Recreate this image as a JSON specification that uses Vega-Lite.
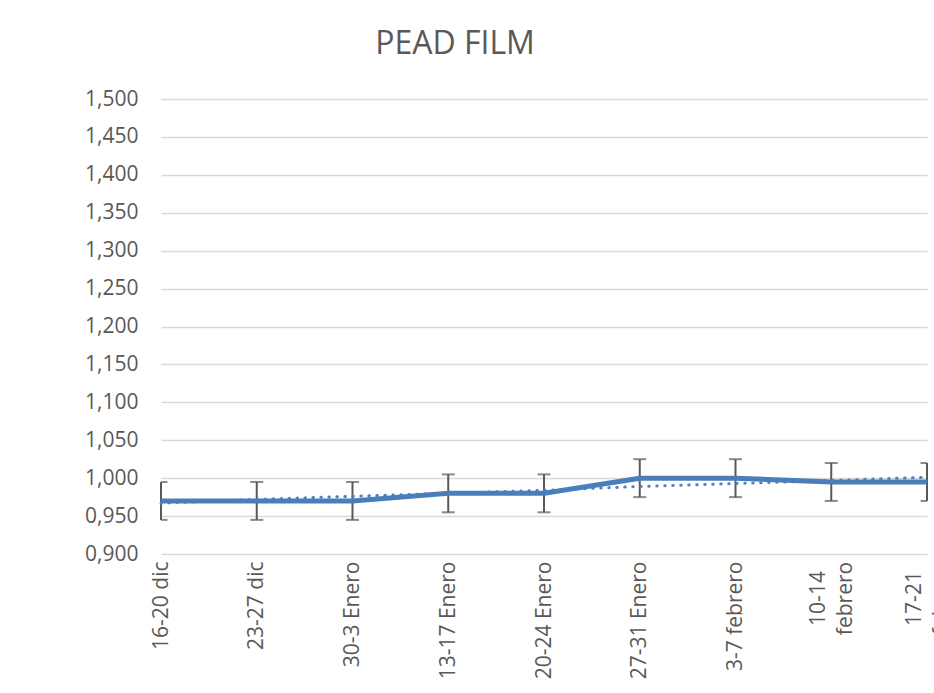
{
  "$schema": "https://vega.github.io/schema/vega-lite/v6.json",
  "autosize": {"type": "none"},
  "width": 766,
  "height": 455,
  "padding": {"left": 161, "top": 99, "right": 7, "bottom": 139},
  "background": "white",
  "title": {
    "text": "PEAD FILM",
    "font": "Open Sans",
    "fontSize": 32,
    "fontWeight": "normal",
    "color": "#595959",
    "anchor": "middle",
    "frame": "group",
    "dx": -89,
    "baseline": "alphabetic",
    "offset": 2
  },
  "data": {
    "values": [
      {"semana": "16-20 dic", "valor": 0.970, "lo": 0.945, "hi": 0.995, "tendencia": 0.967},
      {"semana": "23-27 dic", "valor": 0.970, "lo": 0.945, "hi": 0.995, "tendencia": 0.972},
      {"semana": "30-3 Enero", "valor": 0.970, "lo": 0.945, "hi": 0.995, "tendencia": 0.976},
      {"semana": "13-17 Enero", "valor": 0.980, "lo": 0.955, "hi": 1.005, "tendencia": 0.980},
      {"semana": "20-24 Enero", "valor": 0.980, "lo": 0.955, "hi": 1.005, "tendencia": 0.984},
      {"semana": "27-31 Enero", "valor": 1.000, "lo": 0.975, "hi": 1.025, "tendencia": 0.989},
      {"semana": "3-7 febrero", "valor": 1.000, "lo": 0.975, "hi": 1.025, "tendencia": 0.993},
      {"semana": "10-14 febrero", "valor": 0.995, "lo": 0.970, "hi": 1.020, "tendencia": 0.997},
      {"semana": "17-21 febrero", "valor": 0.995, "lo": 0.970, "hi": 1.020, "tendencia": 1.001}
    ]
  },
  "encoding": {
    "x": {
      "field": "semana",
      "type": "ordinal",
      "sort": null,
      "scale": {"type": "point", "padding": 0},
      "axis": {
        "title": null,
        "domain": false,
        "ticks": false,
        "grid": false,
        "labelAngle": -90,
        "labelAlign": {"condition": {"test": "length(datum.value) > 12", "value": "center"}, "value": "right"},
        "labelBaseline": "middle",
        "labelPadding": {"condition": {"test": "length(datum.value) > 12", "value": 44}, "value": 7},
        "labelOffset": {"condition": {"test": "length(datum.value) > 12", "value": -13}, "value": 0},
        "labelFont": "Open Sans",
        "labelFontSize": 21,
        "labelColor": "#595959",
        "labelLineHeight": 27,
        "labelOverlap": false,
        "labelBound": false,
        "labelExpr": "length(datum.value) > 12 ? split(datum.value, ' ') : datum.value"
      }
    }
  },
  "layer": [
    {
      "mark": {"type": "rule", "color": "#595959", "strokeWidth": 2},
      "encoding": {
        "y": {"field": "lo", "type": "quantitative", "scale": {"domain": [0.9, 1.5], "nice": false, "zero": false},
          "axis": {"title": null, "domain": false, "ticks": false, "values": [0.9, 0.95, 1.0, 1.05, 1.1, 1.15, 1.2, 1.25, 1.3, 1.35, 1.4, 1.45, 1.5], "labelExpr": "replace(format(datum.value, '.3f'), '.', ',')", "labelFont": "Open Sans", "labelFontSize": 21, "labelColor": "#595959", "labelPadding": 23, "labelOverlap": false, "gridColor": "#d9d9d9", "gridWidth": 1.3}},
        "y2": {"field": "hi"}
      }
    },
    {
      "mark": {"type": "tick", "orient": "horizontal", "color": "#595959", "thickness": 2, "size": 13, "clip": true},
      "encoding": {"y": {"field": "lo", "type": "quantitative", "scale": {"domain": [0.9, 1.5], "nice": false, "zero": false},
          "axis": {"title": null, "domain": false, "ticks": false, "values": [0.9, 0.95, 1.0, 1.05, 1.1, 1.15, 1.2, 1.25, 1.3, 1.35, 1.4, 1.45, 1.5], "labelExpr": "replace(format(datum.value, '.3f'), '.', ',')", "labelFont": "Open Sans", "labelFontSize": 21, "labelColor": "#595959", "labelPadding": 23, "labelOverlap": false, "gridColor": "#d9d9d9", "gridWidth": 1.3}}}
    },
    {
      "mark": {"type": "tick", "orient": "horizontal", "color": "#595959", "thickness": 2, "size": 13, "clip": true},
      "encoding": {"y": {"field": "hi", "type": "quantitative", "scale": {"domain": [0.9, 1.5], "nice": false, "zero": false},
          "axis": {"title": null, "domain": false, "ticks": false, "values": [0.9, 0.95, 1.0, 1.05, 1.1, 1.15, 1.2, 1.25, 1.3, 1.35, 1.4, 1.45, 1.5], "labelExpr": "replace(format(datum.value, '.3f'), '.', ',')", "labelFont": "Open Sans", "labelFontSize": 21, "labelColor": "#595959", "labelPadding": 23, "labelOverlap": false, "gridColor": "#d9d9d9", "gridWidth": 1.3}}}
    },
    {
      "mark": {"type": "line", "color": "#4f81bd", "strokeWidth": 3, "strokeDash": [0.5, 7.5], "strokeCap": "round"},
      "encoding": {"y": {"field": "tendencia", "type": "quantitative", "scale": {"domain": [0.9, 1.5], "nice": false, "zero": false},
          "axis": {"title": null, "domain": false, "ticks": false, "values": [0.9, 0.95, 1.0, 1.05, 1.1, 1.15, 1.2, 1.25, 1.3, 1.35, 1.4, 1.45, 1.5], "labelExpr": "replace(format(datum.value, '.3f'), '.', ',')", "labelFont": "Open Sans", "labelFontSize": 21, "labelColor": "#595959", "labelPadding": 23, "labelOverlap": false, "gridColor": "#d9d9d9", "gridWidth": 1.3}}}
    },
    {
      "mark": {"type": "line", "color": "#4a7ebb", "strokeWidth": 5, "strokeJoin": "round"},
      "encoding": {"y": {"field": "valor", "type": "quantitative", "scale": {"domain": [0.9, 1.5], "nice": false, "zero": false},
          "axis": {"title": null, "domain": false, "ticks": false, "values": [0.9, 0.95, 1.0, 1.05, 1.1, 1.15, 1.2, 1.25, 1.3, 1.35, 1.4, 1.45, 1.5], "labelExpr": "replace(format(datum.value, '.3f'), '.', ',')", "labelFont": "Open Sans", "labelFontSize": 21, "labelColor": "#595959", "labelPadding": 23, "labelOverlap": false, "gridColor": "#d9d9d9", "gridWidth": 1.3}}}
    }
  ],
  "config": {"view": {"stroke": null}}
}
